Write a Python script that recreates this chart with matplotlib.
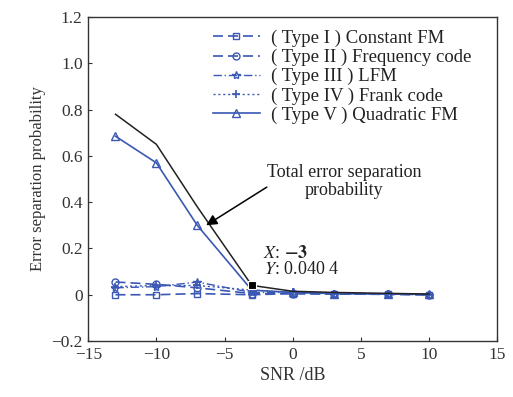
import matplotlib
matplotlib.use("Agg")
import matplotlib.pyplot as plt
import numpy as np

plt.rcParams["font.family"] = ["Liberation Serif", "DejaVu Serif"]
plt.rcParams["mathtext.fontset"] = "stix"

snr = [-13, -10, -7, -3, 0, 3, 7, 10]
type1 = [0.0, 0.0, 0.005, 0.0, 0.005, 0.003, 0.002, 0.0]
type2 = [0.055, 0.045, 0.03, 0.005, 0.005, 0.003, 0.002, 0.0]
type3 = [0.03, 0.035, 0.055, 0.01, 0.01, 0.005, 0.003, 0.0]
type4 = [0.035, 0.04, 0.04, 0.02, 0.01, 0.005, 0.003, 0.0]
type5 = [0.685, 0.57, 0.3, 0.02, 0.01, 0.005, 0.003, 0.002]
total = [0.78, 0.65, 0.38, 0.0404, 0.015, 0.01, 0.006, 0.003]

labels = [
    "( Type I ) Constant FM",
    "( Type II ) Frequency code",
    "( Type III ) LFM",
    "( Type IV ) Frank code",
    "( Type V ) Quadratic FM",
]

blue = "#3a58b4"
grey = "#333333"

fig = plt.figure(figsize=(5.13, 3.97), dpi=100)
ax = fig.add_axes([0.172, 0.141, 0.797, 0.816])

ax.plot(snr, total, color="#222222", lw=1.1, zorder=3)
ax.plot(snr, type1, color=blue, ls=(0, (6, 3)), lw=1.2, marker="s", ms=5,
        mfc="none", mew=1.0, label=labels[0])
ax.plot(snr, type2, color=blue, ls=(0, (6, 3)), lw=1.2, marker="o", ms=5,
        mfc="none", mew=1.0, label=labels[1])
ax.plot(snr, type3, color=blue, ls=(0, (6, 2, 1, 2)), lw=1.0, marker="*", ms=6,
        mfc="none", mew=1.0, label=labels[2])
ax.plot(snr, type4, color=blue, ls=(0, (1.5, 2)), lw=1.0, marker="+", ms=6,
        mew=1.2, label=labels[3])
ax.plot(snr, type5, color=blue, ls="-", lw=1.2, marker="^", ms=6,
        mfc="none", mew=1.0, label=labels[4])

# data tip marker
ax.plot([snr[3]], [total[3]], marker="s", ms=6, color="black", mec="white",
        mew=0.8, zorder=5)
ax.text(-2.2, 0.18, r"$X$: $\mathbf{-3}$", fontsize=13, ha="left",
        va="center", color="#222222")
ax.text(-2.1, 0.11, r"$Y$: 0.040 4", fontsize=13, ha="left", va="center",
        color="#222222")

ax.text(3.8, 0.49, "Total error separation\nprobability", fontsize=13,
        ha="center", va="center", color="#222222", linespacing=1.1)
ax.annotate("", xy=(-6.35, 0.30), xytext=(-1.9, 0.465),
            arrowprops=dict(arrowstyle="-|>", color="black", lw=1.1,
                            mutation_scale=16, shrinkA=0, shrinkB=0))

ax.set_xlim(-15, 15)
ax.set_ylim(-0.2, 1.2)
ax.set_xticks([-15, -10, -5, 0, 5, 10, 15])
ax.set_xticklabels(["\u221215", "\u221210", "\u22125", "0", "5", "10", "15"])
ax.set_yticks([-0.2, 0, 0.2, 0.4, 0.6, 0.8, 1.0, 1.2])
ax.set_yticklabels(["\u22120.2", "0", "0.2", "0.4", "0.6", "0.8", "1.0", "1.2"])
ax.tick_params(direction="in", labelsize=12.5, length=3, color=grey,
               labelcolor=grey, pad=4)
for s in ax.spines.values():
    s.set_color(grey)
    s.set_linewidth(1.0)

ax.set_xlabel("SNR /dB", fontsize=13, color=grey, labelpad=3)
ax.set_ylabel("Error separation probability", fontsize=12, color=grey,
              labelpad=4)

leg = ax.legend(loc="upper left", bbox_to_anchor=(0.3, 0.967),
                frameon=False, fontsize=13.5, handlelength=2.5,
                handletextpad=0.6, labelspacing=0.1, borderaxespad=0,
                borderpad=0.1)
for t in leg.get_texts():
    t.set_color("#222222")

fig.savefig("out.png", dpi=100)
